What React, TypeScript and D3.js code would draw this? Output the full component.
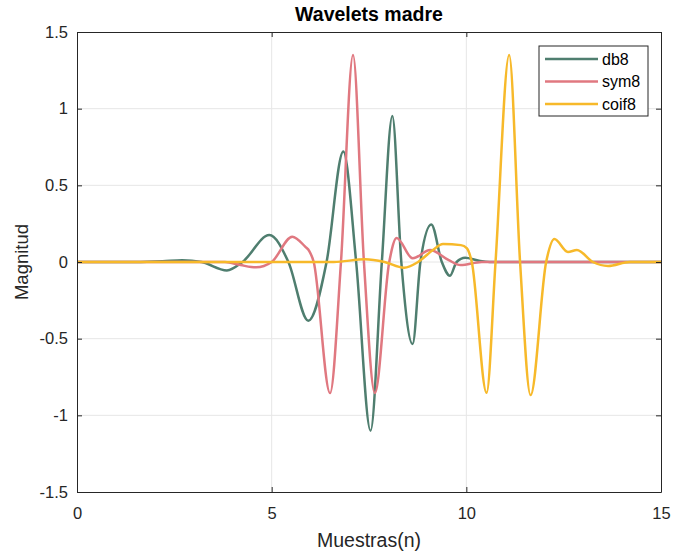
import React, { useRef, useEffect } from "react";
import * as d3 from "d3";

// db8 wavelet
const db8X = [0, 1.5, 2.2, 2.7, 3.2, 3.85, 4.25, 4.94, 5.43, 5.94, 6.41, 6.84, 7.17, 7.54, 7.83, 8.1, 8.33, 8.62, 8.82, 9.1, 9.37, 9.58, 9.75, 9.97, 10.3, 10.6, 15];
const db8Y = [0, 0, 0.005, 0.012, 0, -0.055, 0, 0.176, 0, -0.383, 0, 0.72, 0, -1.1, 0, 0.952, 0, -0.535, 0, 0.245, 0, -0.09, 0, 0.028, 0.01, 0, 0];

// sym8 wavelet
const sym8X = [0, 3.8, 4.2, 4.6, 5.0, 5.53, 5.86, 5.97, 6.08, 6.5, 6.78, 7.09, 7.37, 7.65, 8.02, 8.21, 8.62, 9.07, 9.55, 9.85, 10.4, 15];
const sym8Y = [0, 0, -0.02, -0.035, 0, 0.165, 0.1, 0.07, 0, -0.855, 0, 1.35, 0, -0.855, 0, 0.157, 0.024, 0.078, 0.012, -0.02, 0, 0];

// coif8 wavelet
const coif8X = [0, 6.6, 7.4, 7.9, 8.4, 8.76, 9.15, 9.4, 9.86, 10.01, 10.14, 10.52, 10.75, 11.1, 11.38, 11.65, 12.05, 12.26, 12.61, 12.84, 13.25, 13.64, 14.2, 15];
const coif8Y = [0, 0, 0.018, 0, -0.037, 0, 0.08, 0.117, 0.11, 0.09, 0, -0.853, 0, 1.35, 0, -0.868, 0, 0.15, 0.065, 0.078, 0, -0.026, 0, 0];

const seriesNames = ["db8", "sym8", "coif8"];
const seriesColors = ["#4f7e6f", "#e07880", "#f7b92a"];
const xTicks = [0, 5, 10, 15];
const yTicks = [-1.5, -1, -0.5, 0, 0.5, 1, 1.5];

const App = () => {
  const container = useRef(null);

  const width = 673;
  const height = 554;
  const margin = { left: 77, right: 12, top: 32, bottom: 62 };

  useEffect(() => {
    const svg = d3.select(container.current);
    svg.selectAll("*").remove();

    const x = d3.scaleLinear().domain([0, 15]).range([margin.left, width - margin.right]);
    const y = d3.scaleLinear().domain([-1.5, 1.5]).range([height - margin.bottom, margin.top]);
    const axisColor = "#262626";
    const font = "'Liberation Sans', Arial, sans-serif";

    // grid
    svg
      .append("g")
      .selectAll("line")
      .data(xTicks.slice(1, -1))
      .enter()
      .append("line")
      .attr("x1", (d) => x(d))
      .attr("x2", (d) => x(d))
      .attr("y1", y(-1.5))
      .attr("y2", y(1.5))
      .attr("stroke", "#e6e6e6");
    svg
      .append("g")
      .selectAll("line")
      .data(yTicks.slice(1, -1))
      .enter()
      .append("line")
      .attr("x1", x(0))
      .attr("x2", x(15))
      .attr("y1", (d) => y(d))
      .attr("y2", (d) => y(d))
      .attr("stroke", "#e6e6e6");

    // lines
    const all = [
      [db8X, db8Y],
      [sym8X, sym8Y],
      [coif8X, coif8Y],
    ];
    all.forEach(([xs, ys], i) => {
      const pts = xs.map((v, j) => [x(v), y(ys[j])] as [number, number]);
      svg
        .append("path")
        .attr("d", d3.line().curve(d3.curveMonotoneX)(pts))
        .attr("fill", "none")
        .attr("stroke", seriesColors[i])
        .attr("stroke-width", 2.5)
        .attr("stroke-linejoin", "round");
    });

    // axes (box with inward ticks)
    const fmt = (d) => String(d);
    const yAxis = d3.axisLeft(y).tickValues(yTicks).tickSizeInner(-5).tickSizeOuter(0).tickPadding(9).tickFormat(fmt);
    const xAxis = d3.axisBottom(x).tickValues(xTicks).tickSizeInner(-5).tickSizeOuter(0).tickPadding(15).tickFormat(fmt);
    const yAxisR = d3.axisRight(y).tickValues(yTicks).tickSizeInner(-5).tickSizeOuter(0).tickFormat(() => "");
    const xAxisT = d3.axisTop(x).tickValues(xTicks).tickSizeInner(-5).tickSizeOuter(0).tickFormat(() => "");

    const gy = svg.append("g").attr("transform", `translate(${margin.left},0)`).call(yAxis);
    const gx = svg.append("g").attr("transform", `translate(0,${height - margin.bottom})`).call(xAxis);
    const gr = svg.append("g").attr("transform", `translate(${width - margin.right},0)`).call(yAxisR);
    const gt = svg.append("g").attr("transform", `translate(0,${margin.top})`).call(xAxisT);
    [gy, gx, gr, gt].forEach((g) => {
      g.select(".domain").attr("stroke", axisColor);
      g.selectAll(".tick line").attr("stroke", axisColor);
      g.selectAll("text").style("font-family", font).style("font-size", "16.5px").attr("fill", axisColor);
    });

    // title and labels
    svg
      .append("text")
      .attr("x", (x(0) + x(15)) / 2)
      .attr("y", 21)
      .attr("text-anchor", "middle")
      .style("font-family", font)
      .style("font-size", "19.5px")
      .style("font-weight", "bold")
      .attr("fill", "#000")
      .text("Wavelets madre");
    svg
      .append("text")
      .attr("x", (x(0) + x(15)) / 2)
      .attr("y", 547)
      .attr("text-anchor", "middle")
      .style("font-family", font)
      .style("font-size", "19.5px")
      .attr("fill", axisColor)
      .text("Muestras(n)");
    svg
      .append("text")
      .attr("transform", `translate(28,${y(0)}) rotate(-90)`)
      .attr("text-anchor", "middle")
      .style("font-family", font)
      .style("font-size", "18.5px")
      .attr("fill", axisColor)
      .text("Magnitud");

    // legend
    const legend = svg.append("g").attr("transform", "translate(539,46)");
    legend
      .append("rect")
      .attr("width", 109)
      .attr("height", 70)
      .attr("fill", "#fff")
      .attr("stroke", axisColor)
      .attr("stroke-width", 1);
    seriesNames.forEach((name, i) => {
      const ly = 13 + i * 22.5;
      legend
        .append("line")
        .attr("x1", 6)
        .attr("x2", 59)
        .attr("y1", ly)
        .attr("y2", ly)
        .attr("stroke", seriesColors[i])
        .attr("stroke-width", 2.5);
      legend
        .append("text")
        .attr("x", 63)
        .attr("y", ly + 5.5)
        .style("font-family", font)
        .style("font-size", "16px")
        .attr("fill", "#000")
        .text(name);
    });
  }, []);

  return (
    <svg
      ref={container}
      width={width}
      height={height}
      style={{ position: "absolute", left: 0, top: 0, background: "#fff" }}
    />
  );
};

export default App;
